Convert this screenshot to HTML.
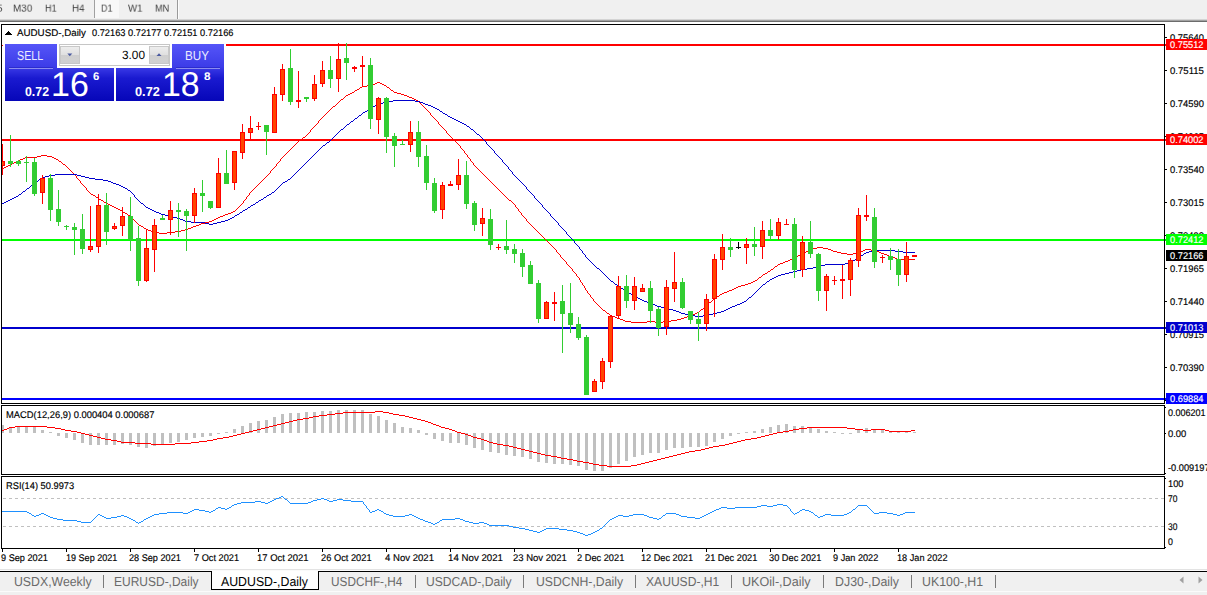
<!DOCTYPE html>
<html><head><meta charset="utf-8"><title>AUDUSD-,Daily</title>
<style>
html,body{margin:0;padding:0}
body{width:1207px;height:595px;position:relative;overflow:hidden;background:#fff;font-family:"Liberation Sans",sans-serif}
.t{position:absolute;white-space:nowrap;line-height:1;transform-origin:0 50%;font-family:"Liberation Sans",sans-serif}
#tb{position:absolute;left:0;top:0;width:1207px;height:19px;background:#f0f0f0}
#tb i{position:absolute;display:block}
svg{position:absolute;left:0;top:0}
.abs{position:absolute}
</style></head><body>
<div id="tb">
<i style="left:94px;top:0;width:1px;height:18px;background:#a0a0a0"></i>
<i style="left:95px;top:0;width:24px;height:18px;background:#f8f8f8"></i>
<i style="left:177px;top:0;width:1px;height:19px;background:#9a9a9a"></i>
<i style="left:178px;top:0;width:1px;height:19px;background:#fdfdfd"></i>
</div>
<div class="abs" style="left:0;top:19px;width:1207px;height:1px;background:#d4d4d4"></div>
<div class="abs" style="left:0;top:20px;width:1207px;height:1px;background:#a2a2a2"></div>
<div class="abs" style="left:0;top:21px;width:1207px;height:1px;background:#6c6c6c"></div>
<svg width="1207" height="595" viewBox="0 0 1207 595" shape-rendering="crispEdges">
<defs>
<clipPath id="cm"><rect x="2" y="25" width="1164" height="378"/></clipPath>
<clipPath id="c2"><rect x="2" y="406" width="1162" height="68"/></clipPath>
<clipPath id="c3"><rect x="2" y="477" width="1162" height="71"/></clipPath>
</defs>
<g clip-path="url(#cm)">
<rect x="226" y="44" width="940" height="2" fill="#ff0000"/>
<rect x="2" y="45" width="1" height="1" fill="#ff0000"/>
<rect x="2" y="139" width="1164" height="2" fill="#ff0000"/>
<rect x="2" y="239" width="1164" height="2" fill="#00ff00"/>
<rect x="2" y="327" width="1164" height="2" fill="#0000cd"/>
<rect x="2" y="398" width="1164" height="2" fill="#0000ff"/>
<path d="M377 82h3v1h-3zM375 83h2v1h-2zM380 83h2v1h-2zM372 84h3v1h-3zM382 84h2v1h-2zM367 85h5v1h-5zM384 85h2v1h-2zM362 86h5v1h-5zM386 86h1v1h-1zM360 87h2v1h-2zM387 87h2v1h-2zM359 88h1v1h-1zM389 88h1v1h-1zM357 89h2v1h-2zM390 89h1v1h-1zM355 90h2v1h-2zM391 90h2v1h-2zM354 91h1v1h-1zM393 91h1v1h-1zM352 92h2v1h-2zM394 92h3v1h-3zM350 93h2v1h-2zM397 93h4v1h-4zM348 94h2v1h-2zM401 94h3v1h-3zM346 95h2v1h-2zM404 95h3v1h-3zM345 96h1v1h-1zM407 96h2v1h-2zM344 97h1v1h-1zM409 97h3v1h-3zM343 98h1v1h-1zM412 98h2v1h-2zM341 99h2v1h-2zM414 99h2v1h-2zM340 100h1v1h-1zM416 100h2v1h-2zM339 101h1v1h-1zM418 101h1v1h-1zM338 102h1v1h-1zM419 102h1v1h-1zM337 103h1v1h-1zM420 103h1v1h-1zM336 104h1v1h-1zM421 104h1v1h-1zM335 105h1v1h-1zM422 105h1v1h-1zM333 106h2v1h-2zM423 106h1v1h-1zM332 107h1v1h-1zM424 107h1v1h-1zM331 108h1v1h-1zM425 108h1v1h-1zM330 109h1v1h-1zM426 109h1v1h-1zM329 110h1v1h-1zM427 110h1v1h-1zM328 111h1v1h-1zM428 111h1v1h-1zM327 112h1v1h-1zM429 112h1v1h-1zM326 113h1v1h-1zM430 113h1v2h-1zM325 114h1v1h-1zM324 115h1v1h-1zM431 115h1v1h-1zM323 116h1v1h-1zM432 116h1v1h-1zM322 117h1v1h-1zM433 117h1v1h-1zM321 118h1v1h-1zM434 118h1v1h-1zM320 119h1v1h-1zM435 119h1v1h-1zM319 120h1v1h-1zM436 120h1v1h-1zM437 121h1v1h-1zM318 121h1v2h-1zM438 122h1v2h-1zM317 123h1v1h-1zM316 124h1v1h-1zM439 124h1v1h-1zM315 125h1v1h-1zM440 125h1v1h-1zM314 126h1v1h-1zM441 126h1v1h-1zM313 127h1v1h-1zM442 127h1v1h-1zM312 128h1v1h-1zM443 128h1v1h-1zM311 129h1v1h-1zM444 129h1v1h-1zM445 130h1v1h-1zM310 130h1v2h-1zM446 131h1v2h-1zM309 132h1v1h-1zM308 133h1v1h-1zM447 133h1v1h-1zM307 134h1v1h-1zM448 134h1v1h-1zM306 135h1v1h-1zM449 135h1v1h-1zM305 136h1v1h-1zM450 136h1v1h-1zM303 137h2v1h-2zM451 137h1v1h-1zM302 138h1v1h-1zM452 138h1v1h-1zM301 139h1v1h-1zM453 139h1v1h-1zM299 140h2v1h-2zM454 140h1v1h-1zM298 141h1v1h-1zM455 141h1v1h-1zM297 142h1v1h-1zM456 142h1v1h-1zM296 143h1v1h-1zM457 143h1v1h-1zM295 144h1v1h-1zM458 144h1v1h-1zM294 145h1v1h-1zM459 145h1v1h-1zM293 146h1v1h-1zM460 146h1v2h-1zM292 147h1v1h-1zM291 148h1v1h-1zM461 148h1v1h-1zM290 149h1v1h-1zM462 149h1v1h-1zM289 150h1v1h-1zM463 150h1v1h-1zM288 151h1v1h-1zM464 151h1v2h-1zM287 152h1v1h-1zM286 153h1v1h-1zM465 153h1v1h-1zM285 154h1v1h-1zM466 154h1v1h-1zM41 155h6v1h-6zM284 155h1v1h-1zM467 155h1v2h-1zM37 156h4v1h-4zM47 156h5v1h-5zM283 156h1v1h-1zM25 157h12v1h-12zM52 157h2v1h-2zM282 157h1v1h-1zM468 157h1v1h-1zM23 158h2v1h-2zM54 158h2v1h-2zM281 158h1v1h-1zM469 158h1v1h-1zM20 159h3v1h-3zM56 159h2v1h-2zM280 159h1v2h-1zM470 159h1v2h-1zM18 160h2v1h-2zM58 160h1v1h-1zM16 161h2v1h-2zM59 161h2v1h-2zM279 161h1v1h-1zM471 161h1v1h-1zM14 162h2v1h-2zM61 162h1v1h-1zM278 162h1v1h-1zM472 162h1v1h-1zM12 163h2v1h-2zM62 163h1v1h-1zM277 163h1v1h-1zM473 163h1v2h-1zM10 164h2v1h-2zM63 164h2v1h-2zM276 164h1v2h-1zM8 165h2v1h-2zM65 165h1v1h-1zM474 165h1v1h-1zM6 166h2v1h-2zM66 166h1v1h-1zM275 166h1v1h-1zM475 166h1v1h-1zM4 167h2v1h-2zM67 167h1v1h-1zM274 167h1v1h-1zM476 167h1v1h-1zM1 168h3v1h-3zM68 168h1v1h-1zM273 168h1v1h-1zM477 168h1v1h-1zM69 169h1v1h-1zM272 169h1v1h-1zM478 169h1v1h-1zM70 170h1v1h-1zM271 170h1v1h-1zM479 170h1v1h-1zM71 171h1v1h-1zM480 171h1v1h-1zM270 171h1v2h-1zM72 172h1v1h-1zM481 172h1v1h-1zM73 173h1v1h-1zM269 173h1v1h-1zM482 173h1v1h-1zM74 174h1v1h-1zM268 174h1v1h-1zM483 174h1v1h-1zM75 175h1v1h-1zM267 175h1v1h-1zM484 175h1v1h-1zM266 176h1v1h-1zM485 176h1v1h-1zM76 176h1v2h-1zM265 177h1v1h-1zM486 177h1v1h-1zM77 178h1v1h-1zM264 178h1v1h-1zM487 178h1v1h-1zM78 179h1v1h-1zM263 179h1v1h-1zM488 179h1v1h-1zM79 180h1v1h-1zM262 180h1v1h-1zM489 180h1v1h-1zM261 181h1v1h-1zM490 181h1v1h-1zM80 181h1v2h-1zM260 182h1v1h-1zM491 182h1v1h-1zM81 183h1v1h-1zM259 183h1v1h-1zM492 183h1v1h-1zM82 184h1v1h-1zM258 184h1v1h-1zM493 184h1v1h-1zM83 185h1v1h-1zM257 185h1v1h-1zM494 185h1v1h-1zM84 186h1v1h-1zM256 186h1v1h-1zM495 186h1v1h-1zM85 187h1v1h-1zM255 187h1v1h-1zM496 187h1v1h-1zM254 188h1v1h-1zM497 188h1v1h-1zM86 188h1v2h-1zM253 189h1v1h-1zM498 189h1v1h-1zM87 190h1v1h-1zM252 190h1v1h-1zM499 190h1v1h-1zM88 191h1v1h-1zM251 191h1v1h-1zM500 191h1v1h-1zM89 192h1v1h-1zM250 192h1v1h-1zM501 192h1v1h-1zM90 193h1v1h-1zM502 193h1v1h-1zM249 193h1v2h-1zM91 194h2v1h-2zM503 194h1v1h-1zM93 195h2v1h-2zM248 195h1v1h-1zM504 195h1v1h-1zM95 196h1v1h-1zM247 196h1v1h-1zM505 196h1v1h-1zM96 197h2v1h-2zM506 197h1v1h-1zM246 197h1v2h-1zM98 198h1v1h-1zM507 198h1v1h-1zM99 199h2v1h-2zM245 199h1v1h-1zM508 199h1v1h-1zM101 200h2v1h-2zM244 200h1v1h-1zM509 200h2v1h-2zM103 201h1v1h-1zM511 201h1v1h-1zM243 201h1v2h-1zM104 202h2v1h-2zM512 202h1v1h-1zM106 203h2v1h-2zM242 203h1v1h-1zM513 203h1v1h-1zM108 204h2v1h-2zM241 204h1v1h-1zM514 204h1v1h-1zM110 205h2v1h-2zM240 205h1v1h-1zM515 205h1v2h-1zM112 206h2v1h-2zM239 206h1v1h-1zM114 207h2v1h-2zM238 207h1v1h-1zM516 207h1v1h-1zM116 208h2v1h-2zM237 208h1v1h-1zM517 208h1v1h-1zM118 209h2v1h-2zM236 209h1v1h-1zM518 209h1v2h-1zM120 210h2v1h-2zM235 210h1v1h-1zM122 211h1v1h-1zM233 211h2v1h-2zM519 211h1v1h-1zM123 212h2v1h-2zM231 212h2v1h-2zM520 212h1v1h-1zM125 213h2v1h-2zM228 213h3v1h-3zM521 213h1v2h-1zM127 214h1v1h-1zM225 214h3v1h-3zM128 215h2v1h-2zM223 215h2v1h-2zM522 215h1v1h-1zM130 216h1v1h-1zM220 216h3v1h-3zM523 216h1v1h-1zM131 217h1v1h-1zM218 217h2v1h-2zM524 217h1v1h-1zM132 218h1v1h-1zM216 218h2v1h-2zM525 218h1v1h-1zM133 219h1v1h-1zM214 219h2v1h-2zM526 219h1v2h-1zM134 220h1v1h-1zM212 220h2v1h-2zM135 221h1v1h-1zM209 221h3v1h-3zM527 221h1v1h-1zM136 222h1v1h-1zM205 222h4v1h-4zM528 222h1v1h-1zM137 223h1v1h-1zM201 223h4v1h-4zM529 223h1v1h-1zM138 224h1v1h-1zM199 224h2v1h-2zM530 224h1v1h-1zM139 225h2v1h-2zM196 225h3v1h-3zM531 225h1v1h-1zM141 226h2v1h-2zM193 226h3v1h-3zM532 226h1v1h-1zM143 227h1v1h-1zM191 227h2v1h-2zM533 227h1v1h-1zM144 228h2v1h-2zM188 228h3v1h-3zM534 228h1v1h-1zM146 229h2v1h-2zM185 229h3v1h-3zM535 229h1v1h-1zM148 230h3v1h-3zM181 230h4v1h-4zM536 230h1v1h-1zM151 231h2v1h-2zM175 231h6v1h-6zM537 231h1v1h-1zM153 232h6v1h-6zM167 232h8v1h-8zM538 232h1v1h-1zM159 233h8v1h-8zM539 233h1v1h-1zM540 234h1v1h-1zM541 235h1v1h-1zM542 236h1v1h-1zM543 237h1v1h-1zM544 238h1v1h-1zM545 239h1v1h-1zM546 240h1v1h-1zM547 241h1v1h-1zM548 242h1v1h-1zM549 243h1v1h-1zM550 244h1v1h-1zM551 245h1v1h-1zM552 246h1v1h-1zM553 247h1v1h-1zM817 247h6v1h-6zM554 248h1v1h-1zM813 248h4v1h-4zM823 248h5v1h-5zM555 249h1v1h-1zM810 249h3v1h-3zM828 249h3v1h-3zM865 249h6v1h-6zM808 250h2v1h-2zM831 250h2v1h-2zM863 250h2v1h-2zM871 250h5v1h-5zM556 250h1v2h-1zM806 251h2v1h-2zM833 251h4v1h-4zM860 251h3v1h-3zM876 251h3v1h-3zM557 252h1v1h-1zM804 252h2v1h-2zM837 252h4v1h-4zM857 252h3v1h-3zM879 252h2v1h-2zM558 253h1v1h-1zM802 253h2v1h-2zM841 253h6v1h-6zM853 253h4v1h-4zM881 253h3v1h-3zM559 254h1v1h-1zM800 254h2v1h-2zM847 254h6v1h-6zM884 254h3v1h-3zM798 255h2v1h-2zM887 255h2v1h-2zM560 255h1v2h-1zM796 256h2v1h-2zM889 256h3v1h-3zM561 257h1v1h-1zM794 257h2v1h-2zM892 257h3v1h-3zM562 258h1v1h-1zM792 258h2v1h-2zM895 258h2v1h-2zM563 259h1v1h-1zM790 259h2v1h-2zM897 259h18v1h-18zM564 260h1v1h-1zM788 260h2v1h-2zM565 261h1v1h-1zM785 261h3v1h-3zM783 262h2v1h-2zM566 262h1v2h-1zM780 263h3v1h-3zM567 264h1v1h-1zM778 264h2v1h-2zM568 265h1v1h-1zM777 265h1v1h-1zM569 266h1v1h-1zM775 266h2v1h-2zM570 267h1v1h-1zM774 267h1v1h-1zM571 268h1v1h-1zM773 268h1v1h-1zM771 269h2v1h-2zM572 269h1v2h-1zM770 270h1v1h-1zM573 271h1v1h-1zM768 271h2v1h-2zM574 272h1v1h-1zM767 272h1v1h-1zM575 273h1v1h-1zM765 273h2v1h-2zM763 274h2v1h-2zM576 274h1v2h-1zM762 275h1v1h-1zM577 276h1v1h-1zM761 276h1v1h-1zM578 277h1v1h-1zM759 277h2v1h-2zM758 278h1v1h-1zM579 278h1v2h-1zM757 279h1v1h-1zM755 280h2v1h-2zM580 280h1v2h-1zM753 281h2v1h-2zM581 282h1v1h-1zM751 282h2v1h-2zM748 283h3v1h-3zM582 283h1v2h-1zM745 284h3v1h-3zM583 285h1v1h-1zM741 285h4v1h-4zM738 286h3v1h-3zM584 286h1v2h-1zM736 287h2v1h-2zM734 288h2v1h-2zM585 288h1v2h-1zM732 289h2v1h-2zM586 290h1v1h-1zM729 290h3v1h-3zM727 291h2v1h-2zM587 291h1v2h-1zM724 292h3v1h-3zM588 293h1v1h-1zM722 293h2v1h-2zM589 294h1v1h-1zM720 294h2v1h-2zM719 295h1v1h-1zM590 295h1v2h-1zM717 296h2v1h-2zM591 297h1v1h-1zM715 297h2v1h-2zM592 298h1v1h-1zM714 298h1v1h-1zM713 299h1v1h-1zM593 299h1v2h-1zM712 300h1v1h-1zM594 301h1v1h-1zM711 301h1v1h-1zM595 302h1v1h-1zM709 302h2v1h-2zM596 303h1v1h-1zM708 303h1v1h-1zM597 304h1v1h-1zM707 304h1v1h-1zM598 305h1v1h-1zM706 305h1v1h-1zM599 306h1v1h-1zM705 306h1v1h-1zM600 307h1v1h-1zM704 307h1v1h-1zM601 308h1v1h-1zM703 308h1v1h-1zM602 309h1v1h-1zM701 309h2v1h-2zM603 310h2v1h-2zM700 310h1v1h-1zM605 311h1v1h-1zM699 311h1v1h-1zM606 312h1v1h-1zM697 312h2v1h-2zM607 313h2v1h-2zM695 313h2v1h-2zM609 314h1v1h-1zM692 314h3v1h-3zM610 315h2v1h-2zM689 315h3v1h-3zM612 316h3v1h-3zM687 316h2v1h-2zM615 317h2v1h-2zM684 317h3v1h-3zM617 318h3v1h-3zM681 318h3v1h-3zM620 319h3v1h-3zM677 319h4v1h-4zM623 320h2v1h-2zM671 320h6v1h-6zM625 321h6v1h-6zM647 321h8v1h-8zM663 321h8v1h-8zM631 322h16v1h-16zM655 322h8v1h-8z" fill="#ff0000"/>
<path d="M393 100h22v1h-22zM389 101h4v1h-4zM415 101h5v1h-5zM383 102h6v1h-6zM420 102h3v1h-3zM378 103h5v1h-5zM423 103h2v1h-2zM376 104h2v1h-2zM425 104h3v1h-3zM375 105h1v1h-1zM428 105h3v1h-3zM373 106h2v1h-2zM431 106h2v1h-2zM371 107h2v1h-2zM433 107h2v1h-2zM370 108h1v1h-1zM435 108h2v1h-2zM368 109h2v1h-2zM437 109h2v1h-2zM367 110h1v1h-1zM439 110h1v1h-1zM365 111h2v1h-2zM440 111h2v1h-2zM363 112h2v1h-2zM442 112h1v1h-1zM362 113h1v1h-1zM443 113h2v1h-2zM361 114h1v1h-1zM445 114h2v1h-2zM359 115h2v1h-2zM447 115h1v1h-1zM358 116h1v1h-1zM448 116h2v1h-2zM357 117h1v1h-1zM450 117h2v1h-2zM355 118h2v1h-2zM452 118h2v1h-2zM354 119h1v1h-1zM454 119h2v1h-2zM353 120h1v1h-1zM456 120h2v1h-2zM351 121h2v1h-2zM458 121h2v1h-2zM350 122h1v1h-1zM460 122h2v1h-2zM349 123h1v1h-1zM462 123h2v1h-2zM347 124h2v1h-2zM464 124h2v1h-2zM346 125h1v1h-1zM466 125h1v1h-1zM345 126h1v1h-1zM467 126h2v1h-2zM344 127h1v1h-1zM469 127h1v1h-1zM343 128h1v1h-1zM470 128h1v1h-1zM341 129h2v1h-2zM471 129h2v1h-2zM340 130h1v1h-1zM473 130h1v1h-1zM339 131h1v1h-1zM474 131h1v1h-1zM338 132h1v1h-1zM475 132h1v1h-1zM337 133h1v1h-1zM476 133h1v1h-1zM336 134h1v1h-1zM477 134h2v1h-2zM335 135h1v1h-1zM479 135h1v1h-1zM334 136h1v1h-1zM480 136h1v1h-1zM333 137h1v1h-1zM481 137h1v1h-1zM332 138h1v1h-1zM482 138h1v1h-1zM331 139h1v1h-1zM483 139h1v1h-1zM330 140h1v1h-1zM484 140h1v1h-1zM329 141h1v1h-1zM485 141h1v1h-1zM327 142h2v1h-2zM486 142h1v2h-1zM326 143h1v1h-1zM325 144h1v1h-1zM487 144h1v1h-1zM323 145h2v1h-2zM488 145h1v1h-1zM322 146h1v1h-1zM489 146h1v1h-1zM321 147h1v1h-1zM490 147h1v1h-1zM320 148h1v1h-1zM491 148h1v1h-1zM319 149h1v1h-1zM492 149h1v1h-1zM318 150h1v1h-1zM493 150h1v1h-1zM317 151h1v1h-1zM494 151h1v2h-1zM316 152h1v1h-1zM315 153h1v1h-1zM495 153h1v1h-1zM314 154h1v1h-1zM496 154h1v1h-1zM313 155h1v1h-1zM497 155h1v1h-1zM312 156h1v1h-1zM498 156h1v1h-1zM311 157h1v1h-1zM499 157h1v1h-1zM310 158h1v1h-1zM500 158h1v1h-1zM309 159h1v1h-1zM501 159h1v1h-1zM308 160h1v1h-1zM502 160h1v2h-1zM307 161h1v1h-1zM306 162h1v1h-1zM503 162h1v1h-1zM305 163h1v1h-1zM504 163h1v1h-1zM304 164h1v1h-1zM505 164h1v1h-1zM303 165h1v1h-1zM506 165h1v1h-1zM302 166h1v1h-1zM507 166h1v1h-1zM301 167h1v1h-1zM508 167h1v2h-1zM300 168h1v1h-1zM299 169h1v1h-1zM509 169h1v1h-1zM298 170h1v1h-1zM510 170h1v1h-1zM297 171h1v1h-1zM511 171h1v1h-1zM296 172h1v1h-1zM512 172h1v2h-1zM295 173h1v1h-1zM55 174h22v1h-22zM294 174h1v1h-1zM513 174h1v1h-1zM49 175h6v1h-6zM77 175h4v1h-4zM293 175h1v1h-1zM514 175h1v1h-1zM45 176h4v1h-4zM81 176h4v1h-4zM292 176h1v1h-1zM515 176h1v1h-1zM42 177h3v1h-3zM85 177h4v1h-4zM291 177h1v1h-1zM516 177h1v1h-1zM41 178h1v1h-1zM89 178h6v1h-6zM290 178h1v1h-1zM517 178h1v1h-1zM39 179h2v1h-2zM95 179h8v1h-8zM288 179h2v1h-2zM518 179h1v1h-1zM38 180h1v1h-1zM103 180h5v1h-5zM287 180h1v1h-1zM519 180h1v1h-1zM37 181h1v1h-1zM108 181h3v1h-3zM285 181h2v1h-2zM520 181h1v1h-1zM35 182h2v1h-2zM111 182h2v1h-2zM283 182h2v1h-2zM521 182h1v1h-1zM34 183h1v1h-1zM113 183h3v1h-3zM282 183h1v1h-1zM522 183h1v1h-1zM33 184h1v1h-1zM116 184h3v1h-3zM281 184h1v1h-1zM523 184h1v1h-1zM31 185h2v1h-2zM119 185h2v1h-2zM280 185h1v1h-1zM524 185h1v1h-1zM30 186h1v1h-1zM121 186h2v1h-2zM279 186h1v1h-1zM525 186h1v1h-1zM29 187h1v1h-1zM123 187h2v1h-2zM278 187h1v1h-1zM526 187h1v2h-1zM27 188h2v1h-2zM125 188h2v1h-2zM277 188h1v1h-1zM26 189h1v1h-1zM127 189h1v1h-1zM276 189h1v1h-1zM527 189h1v1h-1zM25 190h1v1h-1zM128 190h2v1h-2zM275 190h1v1h-1zM528 190h1v1h-1zM23 191h2v1h-2zM130 191h1v1h-1zM274 191h1v1h-1zM529 191h1v1h-1zM22 192h1v1h-1zM131 192h1v1h-1zM272 192h2v1h-2zM530 192h1v1h-1zM21 193h1v1h-1zM132 193h1v1h-1zM271 193h1v1h-1zM531 193h1v1h-1zM19 194h2v1h-2zM133 194h1v1h-1zM269 194h2v1h-2zM532 194h1v1h-1zM18 195h1v1h-1zM267 195h2v1h-2zM533 195h1v1h-1zM134 195h1v2h-1zM16 196h2v1h-2zM266 196h1v1h-1zM534 196h1v2h-1zM14 197h2v1h-2zM135 197h1v1h-1zM264 197h2v1h-2zM12 198h2v1h-2zM136 198h1v1h-1zM263 198h1v1h-1zM535 198h1v1h-1zM10 199h2v1h-2zM137 199h1v1h-1zM261 199h2v1h-2zM536 199h1v1h-1zM8 200h2v1h-2zM138 200h1v1h-1zM259 200h2v1h-2zM537 200h1v1h-1zM6 201h2v1h-2zM139 201h1v1h-1zM258 201h1v1h-1zM538 201h1v1h-1zM4 202h2v1h-2zM140 202h1v1h-1zM256 202h2v1h-2zM539 202h1v1h-1zM1 203h3v1h-3zM141 203h2v1h-2zM255 203h1v1h-1zM540 203h1v1h-1zM143 204h1v1h-1zM253 204h2v1h-2zM541 204h1v1h-1zM144 205h1v1h-1zM251 205h2v1h-2zM542 205h1v2h-1zM145 206h1v1h-1zM250 206h1v1h-1zM146 207h2v1h-2zM248 207h2v1h-2zM543 207h1v1h-1zM148 208h2v1h-2zM247 208h1v1h-1zM544 208h1v1h-1zM150 209h2v1h-2zM245 209h2v1h-2zM545 209h1v1h-1zM152 210h2v1h-2zM243 210h2v1h-2zM546 210h1v1h-1zM154 211h2v1h-2zM242 211h1v1h-1zM547 211h1v1h-1zM156 212h3v1h-3zM240 212h2v1h-2zM548 212h1v1h-1zM159 213h2v1h-2zM239 213h1v1h-1zM549 213h1v1h-1zM161 214h4v1h-4zM237 214h2v1h-2zM550 214h1v2h-1zM165 215h4v1h-4zM235 215h2v1h-2zM169 216h4v1h-4zM234 216h1v1h-1zM551 216h1v1h-1zM173 217h4v1h-4zM232 217h2v1h-2zM552 217h1v1h-1zM177 218h3v1h-3zM230 218h2v1h-2zM553 218h1v1h-1zM180 219h3v1h-3zM228 219h2v1h-2zM554 219h1v1h-1zM183 220h2v1h-2zM225 220h3v1h-3zM555 220h1v1h-1zM185 221h6v1h-6zM221 221h4v1h-4zM556 221h1v1h-1zM191 222h14v1h-14zM217 222h4v1h-4zM557 222h1v1h-1zM205 223h4v1h-4zM213 223h4v1h-4zM558 223h1v2h-1zM209 224h4v1h-4zM559 225h1v1h-1zM560 226h1v1h-1zM561 227h1v1h-1zM562 228h1v1h-1zM563 229h1v1h-1zM564 230h1v1h-1zM565 231h1v1h-1zM566 232h1v2h-1zM567 234h1v1h-1zM568 235h1v1h-1zM569 236h1v1h-1zM570 237h1v1h-1zM571 238h1v1h-1zM572 239h1v1h-1zM573 240h1v1h-1zM574 241h1v2h-1zM575 243h1v1h-1zM576 244h1v1h-1zM577 245h1v1h-1zM578 246h1v1h-1zM579 247h1v2h-1zM580 249h1v1h-1zM581 250h1v1h-1zM873 250h22v1h-22zM869 251h4v1h-4zM895 251h8v1h-8zM582 251h1v2h-1zM866 252h3v1h-3zM903 252h12v1h-12zM583 253h1v1h-1zM864 253h2v1h-2zM584 254h1v1h-1zM863 254h1v1h-1zM861 255h2v1h-2zM585 255h1v2h-1zM859 256h2v1h-2zM586 257h1v1h-1zM858 257h1v1h-1zM587 258h1v1h-1zM856 258h2v1h-2zM588 259h1v1h-1zM855 259h1v1h-1zM589 260h1v1h-1zM853 260h2v1h-2zM590 261h1v1h-1zM851 261h2v1h-2zM591 262h1v1h-1zM849 262h2v1h-2zM592 263h1v1h-1zM845 263h4v1h-4zM593 264h1v1h-1zM825 264h20v1h-20zM594 265h1v1h-1zM821 265h4v1h-4zM595 266h1v1h-1zM817 266h4v1h-4zM596 267h1v1h-1zM813 267h4v1h-4zM597 268h2v1h-2zM807 268h6v1h-6zM599 269h1v1h-1zM801 269h6v1h-6zM600 270h1v1h-1zM797 270h4v1h-4zM601 271h1v1h-1zM793 271h4v1h-4zM602 272h1v1h-1zM789 272h4v1h-4zM603 273h1v1h-1zM785 273h4v1h-4zM604 274h1v1h-1zM781 274h4v1h-4zM605 275h1v1h-1zM778 275h3v1h-3zM606 276h1v1h-1zM776 276h2v1h-2zM607 277h1v1h-1zM774 277h2v1h-2zM608 278h1v1h-1zM772 278h2v1h-2zM609 279h1v1h-1zM770 279h2v1h-2zM610 280h1v1h-1zM769 280h1v1h-1zM611 281h2v1h-2zM767 281h2v1h-2zM613 282h1v1h-1zM766 282h1v1h-1zM614 283h1v1h-1zM765 283h1v1h-1zM615 284h2v1h-2zM763 284h2v1h-2zM617 285h1v1h-1zM762 285h1v1h-1zM618 286h1v1h-1zM761 286h1v1h-1zM619 287h2v1h-2zM760 287h1v1h-1zM621 288h2v1h-2zM759 288h1v1h-1zM623 289h1v1h-1zM758 289h1v1h-1zM624 290h2v1h-2zM757 290h1v1h-1zM626 291h1v1h-1zM756 291h1v1h-1zM627 292h2v1h-2zM755 292h1v1h-1zM629 293h2v1h-2zM754 293h1v1h-1zM631 294h1v1h-1zM753 294h1v1h-1zM632 295h2v1h-2zM752 295h1v1h-1zM634 296h2v1h-2zM751 296h1v1h-1zM636 297h2v1h-2zM749 297h2v1h-2zM638 298h2v1h-2zM748 298h1v1h-1zM640 299h2v1h-2zM747 299h1v1h-1zM642 300h2v1h-2zM746 300h1v1h-1zM644 301h3v1h-3zM744 301h2v1h-2zM647 302h2v1h-2zM742 302h2v1h-2zM649 303h3v1h-3zM740 303h2v1h-2zM652 304h3v1h-3zM737 304h3v1h-3zM655 305h2v1h-2zM735 305h2v1h-2zM657 306h4v1h-4zM732 306h3v1h-3zM661 307h4v1h-4zM730 307h2v1h-2zM665 308h4v1h-4zM728 308h2v1h-2zM669 309h4v1h-4zM726 309h2v1h-2zM673 310h3v1h-3zM724 310h2v1h-2zM676 311h3v1h-3zM721 311h3v1h-3zM679 312h2v1h-2zM717 312h4v1h-4zM681 313h4v1h-4zM713 313h4v1h-4zM685 314h4v1h-4zM709 314h4v1h-4zM689 315h6v1h-6zM703 315h6v1h-6zM695 316h8v1h-8z" fill="#0000cd"/>
<rect x="2" y="144" width="1" height="31" fill="#ff0000"/>
<rect x="0" y="161" width="5" height="5" fill="#ff0000"/>
<rect x="1" y="162" width="3" height="3" fill="#ff4500"/>
<rect x="10" y="135" width="1" height="32" fill="#32cd32"/>
<rect x="8" y="161" width="5" height="3" fill="#32cd32"/>
<rect x="18" y="160" width="1" height="6" fill="#32cd32"/>
<rect x="16" y="161" width="5" height="3" fill="#32cd32"/>
<rect x="26" y="156" width="1" height="26" fill="#32cd32"/>
<rect x="24" y="162" width="5" height="1" fill="#32cd32"/>
<rect x="34" y="158" width="1" height="38" fill="#32cd32"/>
<rect x="32" y="162" width="5" height="32" fill="#32cd32"/>
<rect x="42" y="175" width="1" height="29" fill="#ff0000"/>
<rect x="40" y="178" width="5" height="15" fill="#ff0000"/>
<rect x="41" y="179" width="3" height="13" fill="#ff4500"/>
<rect x="50" y="174" width="1" height="47" fill="#32cd32"/>
<rect x="48" y="178" width="5" height="32" fill="#32cd32"/>
<rect x="58" y="190" width="1" height="36" fill="#32cd32"/>
<rect x="56" y="209" width="5" height="13" fill="#32cd32"/>
<rect x="66" y="225" width="1" height="5" fill="#32cd32"/>
<rect x="64" y="226" width="5" height="1" fill="#32cd32"/>
<rect x="74" y="223" width="1" height="32" fill="#32cd32"/>
<rect x="72" y="227" width="5" height="3" fill="#32cd32"/>
<rect x="82" y="214" width="1" height="40" fill="#32cd32"/>
<rect x="80" y="229" width="5" height="20" fill="#32cd32"/>
<rect x="90" y="206" width="1" height="46" fill="#ff0000"/>
<rect x="88" y="246" width="5" height="4" fill="#ff0000"/>
<rect x="89" y="247" width="3" height="2" fill="#ff4500"/>
<rect x="98" y="194" width="1" height="59" fill="#ff0000"/>
<rect x="96" y="205" width="5" height="42" fill="#ff0000"/>
<rect x="97" y="206" width="3" height="40" fill="#ff4500"/>
<rect x="106" y="193" width="1" height="52" fill="#32cd32"/>
<rect x="104" y="205" width="5" height="27" fill="#32cd32"/>
<rect x="114" y="223" width="1" height="7" fill="#ff0000"/>
<rect x="112" y="226" width="5" height="3" fill="#ff0000"/>
<rect x="113" y="227" width="3" height="1" fill="#ff4500"/>
<rect x="122" y="207" width="1" height="29" fill="#ff0000"/>
<rect x="120" y="216" width="5" height="10" fill="#ff0000"/>
<rect x="121" y="217" width="3" height="8" fill="#ff4500"/>
<rect x="130" y="197" width="1" height="54" fill="#32cd32"/>
<rect x="128" y="216" width="5" height="24" fill="#32cd32"/>
<rect x="138" y="226" width="1" height="60" fill="#32cd32"/>
<rect x="136" y="238" width="5" height="43" fill="#32cd32"/>
<rect x="146" y="230" width="1" height="52" fill="#ff0000"/>
<rect x="144" y="248" width="5" height="33" fill="#ff0000"/>
<rect x="145" y="249" width="3" height="31" fill="#ff4500"/>
<rect x="154" y="219" width="1" height="53" fill="#ff0000"/>
<rect x="152" y="225" width="5" height="25" fill="#ff0000"/>
<rect x="153" y="226" width="3" height="23" fill="#ff4500"/>
<rect x="162" y="215" width="1" height="5" fill="#32cd32"/>
<rect x="160" y="218" width="5" height="2" fill="#32cd32"/>
<rect x="170" y="201" width="1" height="34" fill="#ff0000"/>
<rect x="168" y="210" width="5" height="10" fill="#ff0000"/>
<rect x="169" y="211" width="3" height="8" fill="#ff4500"/>
<rect x="178" y="203" width="1" height="34" fill="#32cd32"/>
<rect x="176" y="210" width="5" height="2" fill="#32cd32"/>
<rect x="186" y="209" width="1" height="42" fill="#32cd32"/>
<rect x="184" y="211" width="5" height="5" fill="#32cd32"/>
<rect x="194" y="188" width="1" height="35" fill="#ff0000"/>
<rect x="192" y="193" width="5" height="23" fill="#ff0000"/>
<rect x="193" y="194" width="3" height="21" fill="#ff4500"/>
<rect x="202" y="180" width="1" height="32" fill="#32cd32"/>
<rect x="200" y="193" width="5" height="3" fill="#32cd32"/>
<rect x="210" y="201" width="1" height="8" fill="#32cd32"/>
<rect x="208" y="201" width="5" height="7" fill="#32cd32"/>
<rect x="218" y="158" width="1" height="50" fill="#ff0000"/>
<rect x="216" y="173" width="5" height="35" fill="#ff0000"/>
<rect x="217" y="174" width="3" height="33" fill="#ff4500"/>
<rect x="226" y="150" width="1" height="34" fill="#32cd32"/>
<rect x="224" y="173" width="5" height="11" fill="#32cd32"/>
<rect x="234" y="151" width="1" height="39" fill="#ff0000"/>
<rect x="232" y="151" width="5" height="32" fill="#ff0000"/>
<rect x="233" y="152" width="3" height="30" fill="#ff4500"/>
<rect x="242" y="124" width="1" height="35" fill="#ff0000"/>
<rect x="240" y="132" width="5" height="21" fill="#ff0000"/>
<rect x="241" y="133" width="3" height="19" fill="#ff4500"/>
<rect x="250" y="116" width="1" height="23" fill="#ff0000"/>
<rect x="248" y="128" width="5" height="5" fill="#ff0000"/>
<rect x="249" y="129" width="3" height="3" fill="#ff4500"/>
<rect x="258" y="122" width="1" height="8" fill="#ff0000"/>
<rect x="256" y="126" width="5" height="1" fill="#ff0000"/>
<rect x="266" y="125" width="1" height="30" fill="#32cd32"/>
<rect x="264" y="125" width="5" height="7" fill="#32cd32"/>
<rect x="274" y="87" width="1" height="46" fill="#ff0000"/>
<rect x="272" y="94" width="5" height="39" fill="#ff0000"/>
<rect x="273" y="95" width="3" height="37" fill="#ff4500"/>
<rect x="282" y="64" width="1" height="37" fill="#ff0000"/>
<rect x="280" y="69" width="5" height="26" fill="#ff0000"/>
<rect x="281" y="70" width="3" height="24" fill="#ff4500"/>
<rect x="290" y="49" width="1" height="56" fill="#32cd32"/>
<rect x="288" y="68" width="5" height="34" fill="#32cd32"/>
<rect x="298" y="71" width="1" height="37" fill="#ff0000"/>
<rect x="296" y="100" width="5" height="2" fill="#ff0000"/>
<rect x="306" y="97" width="1" height="5" fill="#32cd32"/>
<rect x="304" y="97" width="5" height="2" fill="#32cd32"/>
<rect x="314" y="75" width="1" height="26" fill="#ff0000"/>
<rect x="312" y="84" width="5" height="15" fill="#ff0000"/>
<rect x="313" y="85" width="3" height="13" fill="#ff4500"/>
<rect x="322" y="61" width="1" height="26" fill="#ff0000"/>
<rect x="320" y="70" width="5" height="14" fill="#ff0000"/>
<rect x="321" y="71" width="3" height="12" fill="#ff4500"/>
<rect x="330" y="56" width="1" height="32" fill="#32cd32"/>
<rect x="328" y="70" width="5" height="9" fill="#32cd32"/>
<rect x="338" y="43" width="1" height="49" fill="#ff0000"/>
<rect x="336" y="59" width="5" height="20" fill="#ff0000"/>
<rect x="337" y="60" width="3" height="18" fill="#ff4500"/>
<rect x="346" y="43" width="1" height="37" fill="#32cd32"/>
<rect x="344" y="58" width="5" height="5" fill="#32cd32"/>
<rect x="354" y="66" width="1" height="6" fill="#ff0000"/>
<rect x="352" y="67" width="5" height="2" fill="#ff0000"/>
<rect x="362" y="56" width="1" height="31" fill="#ff0000"/>
<rect x="360" y="65" width="5" height="2" fill="#ff0000"/>
<rect x="370" y="58" width="1" height="71" fill="#32cd32"/>
<rect x="368" y="65" width="5" height="54" fill="#32cd32"/>
<rect x="378" y="97" width="1" height="37" fill="#ff0000"/>
<rect x="376" y="98" width="5" height="22" fill="#ff0000"/>
<rect x="377" y="99" width="3" height="20" fill="#ff4500"/>
<rect x="386" y="97" width="1" height="56" fill="#32cd32"/>
<rect x="384" y="98" width="5" height="39" fill="#32cd32"/>
<rect x="394" y="133" width="1" height="34" fill="#32cd32"/>
<rect x="392" y="136" width="5" height="10" fill="#32cd32"/>
<rect x="402" y="140" width="1" height="5" fill="#32cd32"/>
<rect x="400" y="144" width="5" height="1" fill="#32cd32"/>
<rect x="410" y="121" width="1" height="31" fill="#ff0000"/>
<rect x="408" y="132" width="5" height="13" fill="#ff0000"/>
<rect x="409" y="133" width="3" height="11" fill="#ff4500"/>
<rect x="418" y="121" width="1" height="46" fill="#32cd32"/>
<rect x="416" y="132" width="5" height="25" fill="#32cd32"/>
<rect x="426" y="145" width="1" height="45" fill="#32cd32"/>
<rect x="424" y="156" width="5" height="27" fill="#32cd32"/>
<rect x="434" y="178" width="1" height="35" fill="#32cd32"/>
<rect x="432" y="183" width="5" height="28" fill="#32cd32"/>
<rect x="442" y="182" width="1" height="37" fill="#ff0000"/>
<rect x="440" y="185" width="5" height="25" fill="#ff0000"/>
<rect x="441" y="186" width="3" height="23" fill="#ff4500"/>
<rect x="450" y="181" width="1" height="5" fill="#ff0000"/>
<rect x="448" y="184" width="5" height="2" fill="#ff0000"/>
<rect x="458" y="159" width="1" height="31" fill="#ff0000"/>
<rect x="456" y="175" width="5" height="10" fill="#ff0000"/>
<rect x="457" y="176" width="3" height="8" fill="#ff4500"/>
<rect x="466" y="161" width="1" height="48" fill="#32cd32"/>
<rect x="464" y="175" width="5" height="29" fill="#32cd32"/>
<rect x="474" y="201" width="1" height="30" fill="#32cd32"/>
<rect x="472" y="203" width="5" height="22" fill="#32cd32"/>
<rect x="482" y="208" width="1" height="28" fill="#ff0000"/>
<rect x="480" y="218" width="5" height="6" fill="#ff0000"/>
<rect x="481" y="219" width="3" height="4" fill="#ff4500"/>
<rect x="490" y="209" width="1" height="41" fill="#32cd32"/>
<rect x="488" y="219" width="5" height="26" fill="#32cd32"/>
<rect x="498" y="244" width="1" height="6" fill="#ff0000"/>
<rect x="496" y="247" width="5" height="1" fill="#ff0000"/>
<rect x="506" y="220" width="1" height="34" fill="#32cd32"/>
<rect x="504" y="246" width="5" height="4" fill="#32cd32"/>
<rect x="514" y="244" width="1" height="19" fill="#32cd32"/>
<rect x="512" y="249" width="5" height="5" fill="#32cd32"/>
<rect x="522" y="249" width="1" height="28" fill="#32cd32"/>
<rect x="520" y="253" width="5" height="14" fill="#32cd32"/>
<rect x="530" y="261" width="1" height="23" fill="#32cd32"/>
<rect x="528" y="265" width="5" height="19" fill="#32cd32"/>
<rect x="538" y="280" width="1" height="43" fill="#32cd32"/>
<rect x="536" y="283" width="5" height="36" fill="#32cd32"/>
<rect x="546" y="301" width="1" height="18" fill="#ff0000"/>
<rect x="544" y="302" width="5" height="17" fill="#ff0000"/>
<rect x="545" y="303" width="3" height="15" fill="#ff4500"/>
<rect x="554" y="292" width="1" height="29" fill="#ff0000"/>
<rect x="552" y="302" width="5" height="2" fill="#ff0000"/>
<rect x="562" y="285" width="1" height="68" fill="#32cd32"/>
<rect x="560" y="301" width="5" height="13" fill="#32cd32"/>
<rect x="570" y="283" width="1" height="50" fill="#32cd32"/>
<rect x="568" y="313" width="5" height="12" fill="#32cd32"/>
<rect x="578" y="317" width="1" height="23" fill="#32cd32"/>
<rect x="576" y="324" width="5" height="14" fill="#32cd32"/>
<rect x="586" y="335" width="1" height="60" fill="#32cd32"/>
<rect x="584" y="337" width="5" height="58" fill="#32cd32"/>
<rect x="594" y="379" width="1" height="13" fill="#ff0000"/>
<rect x="592" y="381" width="5" height="11" fill="#ff0000"/>
<rect x="593" y="382" width="3" height="9" fill="#ff4500"/>
<rect x="602" y="358" width="1" height="31" fill="#ff0000"/>
<rect x="600" y="361" width="5" height="21" fill="#ff0000"/>
<rect x="601" y="362" width="3" height="19" fill="#ff4500"/>
<rect x="610" y="315" width="1" height="53" fill="#ff0000"/>
<rect x="608" y="316" width="5" height="46" fill="#ff0000"/>
<rect x="609" y="317" width="3" height="44" fill="#ff4500"/>
<rect x="618" y="276" width="1" height="42" fill="#ff0000"/>
<rect x="616" y="286" width="5" height="30" fill="#ff0000"/>
<rect x="617" y="287" width="3" height="28" fill="#ff4500"/>
<rect x="626" y="275" width="1" height="33" fill="#32cd32"/>
<rect x="624" y="286" width="5" height="15" fill="#32cd32"/>
<rect x="634" y="277" width="1" height="33" fill="#ff0000"/>
<rect x="632" y="286" width="5" height="15" fill="#ff0000"/>
<rect x="633" y="287" width="3" height="13" fill="#ff4500"/>
<rect x="642" y="284" width="1" height="8" fill="#ff0000"/>
<rect x="640" y="288" width="5" height="4" fill="#ff0000"/>
<rect x="641" y="289" width="3" height="2" fill="#ff4500"/>
<rect x="650" y="281" width="1" height="42" fill="#32cd32"/>
<rect x="648" y="288" width="5" height="23" fill="#32cd32"/>
<rect x="658" y="307" width="1" height="29" fill="#32cd32"/>
<rect x="656" y="309" width="5" height="19" fill="#32cd32"/>
<rect x="666" y="280" width="1" height="55" fill="#ff0000"/>
<rect x="664" y="287" width="5" height="40" fill="#ff0000"/>
<rect x="665" y="288" width="3" height="38" fill="#ff4500"/>
<rect x="674" y="252" width="1" height="50" fill="#ff0000"/>
<rect x="672" y="282" width="5" height="7" fill="#ff0000"/>
<rect x="673" y="283" width="3" height="5" fill="#ff4500"/>
<rect x="682" y="278" width="1" height="31" fill="#32cd32"/>
<rect x="680" y="282" width="5" height="26" fill="#32cd32"/>
<rect x="690" y="311" width="1" height="13" fill="#32cd32"/>
<rect x="688" y="311" width="5" height="9" fill="#32cd32"/>
<rect x="698" y="312" width="1" height="29" fill="#32cd32"/>
<rect x="696" y="319" width="5" height="5" fill="#32cd32"/>
<rect x="706" y="294" width="1" height="37" fill="#ff0000"/>
<rect x="704" y="299" width="5" height="25" fill="#ff0000"/>
<rect x="705" y="300" width="3" height="23" fill="#ff4500"/>
<rect x="714" y="254" width="1" height="63" fill="#ff0000"/>
<rect x="712" y="259" width="5" height="40" fill="#ff0000"/>
<rect x="713" y="260" width="3" height="38" fill="#ff4500"/>
<rect x="722" y="234" width="1" height="36" fill="#ff0000"/>
<rect x="720" y="247" width="5" height="13" fill="#ff0000"/>
<rect x="721" y="248" width="3" height="11" fill="#ff4500"/>
<rect x="730" y="238" width="1" height="19" fill="#32cd32"/>
<rect x="728" y="247" width="5" height="3" fill="#32cd32"/>
<rect x="738" y="242" width="1" height="7" fill="#000000"/>
<rect x="736" y="247" width="5" height="1" fill="#000000"/>
<rect x="746" y="238" width="1" height="26" fill="#ff0000"/>
<rect x="744" y="244" width="5" height="4" fill="#ff0000"/>
<rect x="745" y="245" width="3" height="2" fill="#ff4500"/>
<rect x="754" y="227" width="1" height="29" fill="#32cd32"/>
<rect x="752" y="244" width="5" height="3" fill="#32cd32"/>
<rect x="762" y="221" width="1" height="38" fill="#ff0000"/>
<rect x="760" y="230" width="5" height="17" fill="#ff0000"/>
<rect x="761" y="231" width="3" height="15" fill="#ff4500"/>
<rect x="770" y="219" width="1" height="21" fill="#32cd32"/>
<rect x="768" y="230" width="5" height="6" fill="#32cd32"/>
<rect x="778" y="218" width="1" height="22" fill="#ff0000"/>
<rect x="776" y="222" width="5" height="14" fill="#ff0000"/>
<rect x="777" y="223" width="3" height="12" fill="#ff4500"/>
<rect x="786" y="219" width="1" height="6" fill="#ff0000"/>
<rect x="784" y="224" width="5" height="1" fill="#ff0000"/>
<rect x="794" y="218" width="1" height="60" fill="#32cd32"/>
<rect x="792" y="224" width="5" height="46" fill="#32cd32"/>
<rect x="802" y="236" width="1" height="41" fill="#ff0000"/>
<rect x="800" y="242" width="5" height="28" fill="#ff0000"/>
<rect x="801" y="243" width="3" height="26" fill="#ff4500"/>
<rect x="810" y="221" width="1" height="37" fill="#32cd32"/>
<rect x="808" y="242" width="5" height="12" fill="#32cd32"/>
<rect x="818" y="253" width="1" height="48" fill="#32cd32"/>
<rect x="816" y="254" width="5" height="37" fill="#32cd32"/>
<rect x="826" y="274" width="1" height="37" fill="#ff0000"/>
<rect x="824" y="276" width="5" height="15" fill="#ff0000"/>
<rect x="825" y="277" width="3" height="13" fill="#ff4500"/>
<rect x="834" y="276" width="1" height="9" fill="#ff0000"/>
<rect x="832" y="280" width="5" height="1" fill="#ff0000"/>
<rect x="842" y="265" width="1" height="34" fill="#ff0000"/>
<rect x="840" y="279" width="5" height="2" fill="#ff0000"/>
<rect x="850" y="258" width="1" height="38" fill="#ff0000"/>
<rect x="848" y="260" width="5" height="20" fill="#ff0000"/>
<rect x="849" y="261" width="3" height="18" fill="#ff4500"/>
<rect x="858" y="208" width="1" height="59" fill="#ff0000"/>
<rect x="856" y="215" width="5" height="46" fill="#ff0000"/>
<rect x="857" y="216" width="3" height="44" fill="#ff4500"/>
<rect x="866" y="195" width="1" height="26" fill="#ff0000"/>
<rect x="864" y="215" width="5" height="2" fill="#ff0000"/>
<rect x="874" y="208" width="1" height="60" fill="#32cd32"/>
<rect x="872" y="217" width="5" height="45" fill="#32cd32"/>
<rect x="882" y="255" width="1" height="8" fill="#ff0000"/>
<rect x="880" y="257" width="5" height="1" fill="#ff0000"/>
<rect x="890" y="248" width="1" height="22" fill="#32cd32"/>
<rect x="888" y="256" width="5" height="4" fill="#32cd32"/>
<rect x="898" y="249" width="1" height="37" fill="#32cd32"/>
<rect x="896" y="259" width="5" height="16" fill="#32cd32"/>
<rect x="906" y="242" width="1" height="40" fill="#ff0000"/>
<rect x="904" y="256" width="5" height="19" fill="#ff0000"/>
<rect x="905" y="257" width="3" height="17" fill="#ff4500"/>
<rect x="914" y="255" width="1" height="2" fill="#ff0000"/>
<rect x="912" y="255" width="5" height="2" fill="#ff0000"/>
</g>
<g clip-path="url(#c2)">
<rect x="1" y="425" width="3" height="8" fill="#c0c0c0"/>
<rect x="9" y="427" width="3" height="6" fill="#c0c0c0"/>
<rect x="17" y="426" width="3" height="7" fill="#c0c0c0"/>
<rect x="25" y="426" width="3" height="7" fill="#c0c0c0"/>
<rect x="33" y="427" width="3" height="6" fill="#c0c0c0"/>
<rect x="41" y="430" width="3" height="3" fill="#c0c0c0"/>
<rect x="49" y="432" width="3" height="1" fill="#c0c0c0"/>
<rect x="57" y="433" width="3" height="3" fill="#c0c0c0"/>
<rect x="65" y="433" width="3" height="5" fill="#c0c0c0"/>
<rect x="73" y="433" width="3" height="7" fill="#c0c0c0"/>
<rect x="81" y="433" width="3" height="10" fill="#c0c0c0"/>
<rect x="89" y="433" width="3" height="12" fill="#c0c0c0"/>
<rect x="97" y="433" width="3" height="12" fill="#c0c0c0"/>
<rect x="105" y="433" width="3" height="12" fill="#c0c0c0"/>
<rect x="113" y="433" width="3" height="12" fill="#c0c0c0"/>
<rect x="121" y="433" width="3" height="11" fill="#c0c0c0"/>
<rect x="129" y="433" width="3" height="12" fill="#c0c0c0"/>
<rect x="137" y="433" width="3" height="14" fill="#c0c0c0"/>
<rect x="145" y="433" width="3" height="15" fill="#c0c0c0"/>
<rect x="153" y="433" width="3" height="13" fill="#c0c0c0"/>
<rect x="161" y="433" width="3" height="12" fill="#c0c0c0"/>
<rect x="169" y="433" width="3" height="10" fill="#c0c0c0"/>
<rect x="177" y="433" width="3" height="9" fill="#c0c0c0"/>
<rect x="185" y="433" width="3" height="7" fill="#c0c0c0"/>
<rect x="193" y="433" width="3" height="5" fill="#c0c0c0"/>
<rect x="201" y="433" width="3" height="4" fill="#c0c0c0"/>
<rect x="209" y="433" width="3" height="3" fill="#c0c0c0"/>
<rect x="217" y="433" width="3" height="1" fill="#c0c0c0"/>
<rect x="225" y="432" width="3" height="1" fill="#c0c0c0"/>
<rect x="233" y="429" width="3" height="4" fill="#c0c0c0"/>
<rect x="241" y="426" width="3" height="7" fill="#c0c0c0"/>
<rect x="249" y="423" width="3" height="10" fill="#c0c0c0"/>
<rect x="257" y="421" width="3" height="12" fill="#c0c0c0"/>
<rect x="265" y="420" width="3" height="13" fill="#c0c0c0"/>
<rect x="273" y="417" width="3" height="16" fill="#c0c0c0"/>
<rect x="281" y="414" width="3" height="19" fill="#c0c0c0"/>
<rect x="289" y="413" width="3" height="20" fill="#c0c0c0"/>
<rect x="297" y="413" width="3" height="20" fill="#c0c0c0"/>
<rect x="305" y="412" width="3" height="21" fill="#c0c0c0"/>
<rect x="313" y="412" width="3" height="21" fill="#c0c0c0"/>
<rect x="321" y="411" width="3" height="22" fill="#c0c0c0"/>
<rect x="329" y="411" width="3" height="22" fill="#c0c0c0"/>
<rect x="337" y="410" width="3" height="23" fill="#c0c0c0"/>
<rect x="345" y="410" width="3" height="23" fill="#c0c0c0"/>
<rect x="353" y="410" width="3" height="23" fill="#c0c0c0"/>
<rect x="361" y="410" width="3" height="23" fill="#c0c0c0"/>
<rect x="369" y="414" width="3" height="19" fill="#c0c0c0"/>
<rect x="377" y="416" width="3" height="17" fill="#c0c0c0"/>
<rect x="385" y="420" width="3" height="13" fill="#c0c0c0"/>
<rect x="393" y="423" width="3" height="10" fill="#c0c0c0"/>
<rect x="401" y="427" width="3" height="6" fill="#c0c0c0"/>
<rect x="409" y="428" width="3" height="5" fill="#c0c0c0"/>
<rect x="417" y="430" width="3" height="3" fill="#c0c0c0"/>
<rect x="425" y="433" width="3" height="2" fill="#c0c0c0"/>
<rect x="433" y="433" width="3" height="6" fill="#c0c0c0"/>
<rect x="441" y="433" width="3" height="8" fill="#c0c0c0"/>
<rect x="449" y="433" width="3" height="10" fill="#c0c0c0"/>
<rect x="457" y="433" width="3" height="10" fill="#c0c0c0"/>
<rect x="465" y="433" width="3" height="12" fill="#c0c0c0"/>
<rect x="473" y="433" width="3" height="15" fill="#c0c0c0"/>
<rect x="481" y="433" width="3" height="17" fill="#c0c0c0"/>
<rect x="489" y="433" width="3" height="19" fill="#c0c0c0"/>
<rect x="497" y="433" width="3" height="20" fill="#c0c0c0"/>
<rect x="505" y="433" width="3" height="22" fill="#c0c0c0"/>
<rect x="513" y="433" width="3" height="23" fill="#c0c0c0"/>
<rect x="521" y="433" width="3" height="24" fill="#c0c0c0"/>
<rect x="529" y="433" width="3" height="26" fill="#c0c0c0"/>
<rect x="537" y="433" width="3" height="29" fill="#c0c0c0"/>
<rect x="545" y="433" width="3" height="30" fill="#c0c0c0"/>
<rect x="553" y="433" width="3" height="31" fill="#c0c0c0"/>
<rect x="561" y="433" width="3" height="31" fill="#c0c0c0"/>
<rect x="569" y="433" width="3" height="32" fill="#c0c0c0"/>
<rect x="577" y="433" width="3" height="33" fill="#c0c0c0"/>
<rect x="585" y="433" width="3" height="37" fill="#c0c0c0"/>
<rect x="593" y="433" width="3" height="38" fill="#c0c0c0"/>
<rect x="601" y="433" width="3" height="38" fill="#c0c0c0"/>
<rect x="609" y="433" width="3" height="35" fill="#c0c0c0"/>
<rect x="617" y="433" width="3" height="31" fill="#c0c0c0"/>
<rect x="625" y="433" width="3" height="28" fill="#c0c0c0"/>
<rect x="633" y="433" width="3" height="24" fill="#c0c0c0"/>
<rect x="641" y="433" width="3" height="22" fill="#c0c0c0"/>
<rect x="649" y="433" width="3" height="20" fill="#c0c0c0"/>
<rect x="657" y="433" width="3" height="20" fill="#c0c0c0"/>
<rect x="665" y="433" width="3" height="17" fill="#c0c0c0"/>
<rect x="673" y="433" width="3" height="15" fill="#c0c0c0"/>
<rect x="681" y="433" width="3" height="15" fill="#c0c0c0"/>
<rect x="689" y="433" width="3" height="14" fill="#c0c0c0"/>
<rect x="697" y="433" width="3" height="14" fill="#c0c0c0"/>
<rect x="705" y="433" width="3" height="13" fill="#c0c0c0"/>
<rect x="713" y="433" width="3" height="9" fill="#c0c0c0"/>
<rect x="721" y="433" width="3" height="6" fill="#c0c0c0"/>
<rect x="729" y="433" width="3" height="3" fill="#c0c0c0"/>
<rect x="737" y="433" width="3" height="1" fill="#c0c0c0"/>
<rect x="745" y="432" width="3" height="1" fill="#c0c0c0"/>
<rect x="753" y="431" width="3" height="2" fill="#c0c0c0"/>
<rect x="761" y="429" width="3" height="4" fill="#c0c0c0"/>
<rect x="769" y="427" width="3" height="6" fill="#c0c0c0"/>
<rect x="777" y="425" width="3" height="8" fill="#c0c0c0"/>
<rect x="785" y="424" width="3" height="9" fill="#c0c0c0"/>
<rect x="793" y="426" width="3" height="7" fill="#c0c0c0"/>
<rect x="801" y="426" width="3" height="7" fill="#c0c0c0"/>
<rect x="809" y="427" width="3" height="6" fill="#c0c0c0"/>
<rect x="817" y="429" width="3" height="4" fill="#c0c0c0"/>
<rect x="825" y="431" width="3" height="2" fill="#c0c0c0"/>
<rect x="833" y="432" width="3" height="1" fill="#c0c0c0"/>
<rect x="841" y="433" width="3" height="1" fill="#c0c0c0"/>
<rect x="849" y="433" width="3" height="1" fill="#c0c0c0"/>
<rect x="857" y="430" width="3" height="3" fill="#c0c0c0"/>
<rect x="865" y="428" width="3" height="5" fill="#c0c0c0"/>
<rect x="873" y="429" width="3" height="4" fill="#c0c0c0"/>
<rect x="881" y="430" width="3" height="3" fill="#c0c0c0"/>
<rect x="889" y="431" width="3" height="2" fill="#c0c0c0"/>
<rect x="897" y="432" width="3" height="1" fill="#c0c0c0"/>
<rect x="905" y="432" width="3" height="1" fill="#c0c0c0"/>
<rect x="913" y="432" width="3" height="1" fill="#c0c0c0"/>
<path d="M375 411h8v1h-8zM343 412h32v1h-32zM383 412h6v1h-6zM335 413h8v1h-8zM389 413h4v1h-4zM327 414h8v1h-8zM393 414h6v1h-6zM319 415h8v1h-8zM399 415h6v1h-6zM313 416h6v1h-6zM405 416h4v1h-4zM309 417h4v1h-4zM409 417h4v1h-4zM303 418h6v1h-6zM413 418h4v1h-4zM297 419h6v1h-6zM417 419h4v1h-4zM293 420h4v1h-4zM421 420h4v1h-4zM289 421h4v1h-4zM425 421h3v1h-3zM285 422h4v1h-4zM428 422h3v1h-3zM281 423h4v1h-4zM431 423h2v1h-2zM277 424h4v1h-4zM433 424h3v1h-3zM273 425h4v1h-4zM436 425h3v1h-3zM15 426h32v1h-32zM269 426h4v1h-4zM439 426h2v1h-2zM9 427h6v1h-6zM47 427h8v1h-8zM265 427h4v1h-4zM441 427h4v1h-4zM807 427h40v1h-40zM7 428h2v1h-2zM55 428h6v1h-6zM261 428h4v1h-4zM445 428h4v1h-4zM799 428h8v1h-8zM847 428h8v1h-8zM4 429h3v1h-3zM61 429h4v1h-4zM257 429h4v1h-4zM449 429h3v1h-3zM793 429h6v1h-6zM855 429h8v1h-8zM871 429h14v1h-14zM1 430h3v1h-3zM65 430h6v1h-6zM253 430h4v1h-4zM452 430h3v1h-3zM789 430h4v1h-4zM863 430h8v1h-8zM885 430h4v1h-4zM911 430h4v1h-4zM71 431h6v1h-6zM249 431h4v1h-4zM455 431h2v1h-2zM783 431h6v1h-6zM889 431h22v1h-22zM77 432h4v1h-4zM245 432h4v1h-4zM457 432h4v1h-4zM777 432h6v1h-6zM81 433h4v1h-4zM241 433h4v1h-4zM461 433h4v1h-4zM773 433h4v1h-4zM85 434h4v1h-4zM237 434h4v1h-4zM465 434h3v1h-3zM769 434h4v1h-4zM89 435h4v1h-4zM233 435h4v1h-4zM468 435h3v1h-3zM765 435h4v1h-4zM93 436h4v1h-4zM229 436h4v1h-4zM471 436h2v1h-2zM761 436h4v1h-4zM97 437h4v1h-4zM223 437h6v1h-6zM473 437h4v1h-4zM757 437h4v1h-4zM101 438h4v1h-4zM217 438h6v1h-6zM477 438h4v1h-4zM751 438h6v1h-6zM105 439h6v1h-6zM213 439h4v1h-4zM481 439h3v1h-3zM745 439h6v1h-6zM111 440h6v1h-6zM207 440h6v1h-6zM484 440h3v1h-3zM741 440h4v1h-4zM117 441h4v1h-4zM199 441h8v1h-8zM487 441h2v1h-2zM737 441h4v1h-4zM121 442h14v1h-14zM191 442h8v1h-8zM489 442h4v1h-4zM733 442h4v1h-4zM135 443h16v1h-16zM175 443h16v1h-16zM493 443h4v1h-4zM729 443h4v1h-4zM151 444h24v1h-24zM497 444h6v1h-6zM725 444h4v1h-4zM503 445h6v1h-6zM719 445h6v1h-6zM509 446h4v1h-4zM713 446h6v1h-6zM513 447h4v1h-4zM709 447h4v1h-4zM517 448h4v1h-4zM705 448h4v1h-4zM521 449h4v1h-4zM701 449h4v1h-4zM525 450h4v1h-4zM695 450h6v1h-6zM529 451h4v1h-4zM689 451h6v1h-6zM533 452h4v1h-4zM685 452h4v1h-4zM537 453h4v1h-4zM681 453h4v1h-4zM541 454h4v1h-4zM677 454h4v1h-4zM545 455h6v1h-6zM673 455h4v1h-4zM551 456h6v1h-6zM669 456h4v1h-4zM557 457h4v1h-4zM665 457h4v1h-4zM561 458h6v1h-6zM661 458h4v1h-4zM567 459h6v1h-6zM657 459h4v1h-4zM573 460h4v1h-4zM653 460h4v1h-4zM577 461h6v1h-6zM649 461h4v1h-4zM583 462h6v1h-6zM645 462h4v1h-4zM589 463h4v1h-4zM641 463h4v1h-4zM593 464h6v1h-6zM637 464h4v1h-4zM599 465h8v1h-8zM631 465h6v1h-6zM607 466h24v1h-24z" fill="#ff0000"/>
</g>
<g clip-path="url(#c3)">
<line x1="3" y1="498.5" x2="1164" y2="498.5" stroke="#c0c0c0" stroke-width="1" stroke-dasharray="3 3"/>
<line x1="3" y1="526.5" x2="1164" y2="526.5" stroke="#c0c0c0" stroke-width="1" stroke-dasharray="3 3"/>
<path d="M281 496h2v1h-2zM279 497h2v1h-2zM283 497h1v1h-1zM276 498h3v1h-3zM284 498h1v1h-1zM321 498h3v1h-3zM274 499h2v1h-2zM285 499h2v1h-2zM317 499h4v1h-4zM324 499h3v1h-3zM337 499h6v1h-6zM272 500h2v1h-2zM287 500h1v1h-1zM313 500h4v1h-4zM327 500h2v1h-2zM333 500h4v1h-4zM343 500h8v1h-8zM255 501h6v1h-6zM270 501h2v1h-2zM288 501h1v1h-1zM311 501h2v1h-2zM329 501h4v1h-4zM351 501h12v1h-12zM241 502h14v1h-14zM261 502h4v1h-4zM268 502h2v1h-2zM289 502h1v1h-1zM308 502h3v1h-3zM363 502h1v2h-1zM237 503h4v1h-4zM265 503h3v1h-3zM290 503h18v1h-18zM234 504h3v1h-3zM364 504h1v1h-1zM777 504h6v1h-6zM232 505h2v1h-2zM365 505h1v1h-1zM761 505h6v1h-6zM773 505h4v1h-4zM783 505h4v1h-4zM858 505h9v1h-9zM231 506h1v1h-1zM757 506h4v1h-4zM767 506h6v1h-6zM787 506h1v1h-1zM857 506h1v1h-1zM867 506h1v1h-1zM366 506h1v2h-1zM218 507h3v1h-3zM229 507h2v1h-2zM721 507h6v1h-6zM735 507h22v1h-22zM788 507h1v1h-1zM856 507h1v1h-1zM868 507h1v1h-1zM216 508h2v1h-2zM221 508h4v1h-4zM227 508h2v1h-2zM367 508h1v1h-1zM719 508h2v1h-2zM727 508h8v1h-8zM789 508h1v1h-1zM855 508h1v1h-1zM869 508h1v1h-1zM194 509h5v1h-5zM215 509h1v1h-1zM225 509h2v1h-2zM368 509h1v1h-1zM377 509h2v1h-2zM716 509h3v1h-3zM802 509h3v1h-3zM853 509h2v1h-2zM870 509h1v1h-1zM790 509h1v2h-1zM192 510h2v1h-2zM199 510h6v1h-6zM213 510h2v1h-2zM375 510h2v1h-2zM379 510h2v1h-2zM714 510h2v1h-2zM800 510h2v1h-2zM805 510h4v1h-4zM852 510h1v1h-1zM871 510h1v1h-1zM369 510h1v2h-1zM1 511h26v1h-26zM190 511h2v1h-2zM205 511h4v1h-4zM211 511h2v1h-2zM372 511h3v1h-3zM381 511h2v1h-2zM712 511h2v1h-2zM791 511h1v1h-1zM799 511h1v1h-1zM809 511h2v1h-2zM851 511h1v1h-1zM872 511h1v1h-1zM27 512h2v1h-2zM167 512h16v1h-16zM188 512h2v1h-2zM209 512h2v1h-2zM370 512h2v1h-2zM383 512h1v1h-1zM710 512h2v1h-2zM792 512h1v1h-1zM797 512h2v1h-2zM811 512h2v1h-2zM849 512h2v1h-2zM873 512h1v1h-1zM879 512h8v1h-8zM905 512h10v1h-10zM29 513h2v1h-2zM41 513h3v1h-3zM159 513h8v1h-8zM183 513h5v1h-5zM384 513h2v1h-2zM666 513h10v1h-10zM708 513h2v1h-2zM793 513h1v1h-1zM795 513h2v1h-2zM813 513h1v1h-1zM847 513h2v1h-2zM874 513h5v1h-5zM887 513h6v1h-6zM903 513h2v1h-2zM31 514h1v1h-1zM39 514h2v1h-2zM44 514h2v1h-2zM98 514h2v1h-2zM154 514h5v1h-5zM386 514h3v1h-3zM409 514h3v1h-3zM633 514h11v1h-11zM665 514h1v1h-1zM676 514h3v1h-3zM706 514h2v1h-2zM794 514h1v1h-1zM814 514h1v1h-1zM825 514h6v1h-6zM844 514h3v1h-3zM893 514h4v1h-4zM900 514h3v1h-3zM32 515h2v1h-2zM36 515h3v1h-3zM46 515h2v1h-2zM97 515h1v1h-1zM100 515h2v1h-2zM121 515h3v1h-3zM152 515h2v1h-2zM389 515h4v1h-4zM405 515h4v1h-4zM412 515h2v1h-2zM618 515h5v1h-5zM629 515h4v1h-4zM644 515h3v1h-3zM663 515h2v1h-2zM679 515h2v1h-2zM704 515h2v1h-2zM815 515h2v1h-2zM823 515h2v1h-2zM831 515h13v1h-13zM897 515h3v1h-3zM34 516h2v1h-2zM48 516h2v1h-2zM96 516h1v1h-1zM102 516h2v1h-2zM117 516h4v1h-4zM124 516h3v1h-3zM150 516h2v1h-2zM393 516h12v1h-12zM414 516h2v1h-2zM616 516h2v1h-2zM623 516h6v1h-6zM647 516h2v1h-2zM662 516h1v1h-1zM681 516h6v1h-6zM702 516h2v1h-2zM817 516h1v1h-1zM820 516h3v1h-3zM50 517h3v1h-3zM95 517h1v1h-1zM104 517h2v1h-2zM111 517h6v1h-6zM127 517h2v1h-2zM148 517h2v1h-2zM416 517h2v1h-2zM614 517h2v1h-2zM649 517h4v1h-4zM661 517h1v1h-1zM687 517h8v1h-8zM700 517h2v1h-2zM818 517h2v1h-2zM53 518h4v1h-4zM94 518h1v1h-1zM106 518h5v1h-5zM129 518h2v1h-2zM146 518h2v1h-2zM418 518h2v1h-2zM455 518h5v1h-5zM612 518h2v1h-2zM653 518h4v1h-4zM659 518h2v1h-2zM695 518h5v1h-5zM57 519h6v1h-6zM93 519h1v1h-1zM131 519h2v1h-2zM144 519h2v1h-2zM420 519h3v1h-3zM442 519h13v1h-13zM460 519h3v1h-3zM610 519h2v1h-2zM657 519h2v1h-2zM63 520h14v1h-14zM92 520h1v1h-1zM133 520h2v1h-2zM143 520h1v1h-1zM423 520h2v1h-2zM440 520h2v1h-2zM463 520h2v1h-2zM609 520h1v1h-1zM77 521h4v1h-4zM91 521h1v1h-1zM135 521h1v1h-1zM141 521h2v1h-2zM425 521h3v1h-3zM439 521h1v1h-1zM465 521h4v1h-4zM608 521h1v1h-1zM81 522h10v1h-10zM136 522h2v1h-2zM139 522h2v1h-2zM428 522h3v1h-3zM437 522h2v1h-2zM469 522h4v1h-4zM479 522h5v1h-5zM607 522h1v1h-1zM138 523h1v1h-1zM431 523h2v1h-2zM435 523h2v1h-2zM473 523h6v1h-6zM484 523h3v1h-3zM606 523h1v1h-1zM433 524h2v1h-2zM487 524h2v1h-2zM605 524h1v1h-1zM489 525h20v1h-20zM604 525h1v1h-1zM509 526h4v1h-4zM603 526h1v1h-1zM513 527h6v1h-6zM602 527h1v1h-1zM519 528h6v1h-6zM546 528h13v1h-13zM600 528h2v1h-2zM525 529h4v1h-4zM544 529h2v1h-2zM559 529h8v1h-8zM599 529h1v1h-1zM529 530h4v1h-4zM542 530h2v1h-2zM567 530h6v1h-6zM597 530h2v1h-2zM533 531h4v1h-4zM540 531h2v1h-2zM573 531h4v1h-4zM595 531h2v1h-2zM537 532h3v1h-3zM577 532h3v1h-3zM593 532h2v1h-2zM580 533h3v1h-3zM591 533h2v1h-2zM583 534h2v1h-2zM588 534h3v1h-3zM585 535h3v1h-3z" fill="#1e90ff"/>
</g>
<rect x="1" y="24" width="1164" height="1" fill="#000"/>
<rect x="1" y="24" width="1" height="380" fill="#000"/>
<rect x="1" y="403" width="1164" height="1" fill="#000"/>
<rect x="1164" y="24" width="1" height="380" fill="#000"/>
<rect x="1" y="405" width="1164" height="1" fill="#000"/>
<rect x="1" y="405" width="1" height="70" fill="#000"/>
<rect x="1" y="474" width="1164" height="1" fill="#000"/>
<rect x="1164" y="405" width="1" height="70" fill="#000"/>
<rect x="1" y="476" width="1164" height="1" fill="#000"/>
<rect x="1" y="476" width="1" height="73" fill="#000"/>
<rect x="1" y="548" width="1164" height="1" fill="#000"/>
<rect x="1164" y="476" width="1" height="73" fill="#000"/>
<rect x="1165" y="37" width="2" height="1" fill="#000"/>
<rect x="1165" y="70" width="2" height="1" fill="#000"/>
<rect x="1165" y="103" width="2" height="1" fill="#000"/>
<rect x="1165" y="136" width="2" height="1" fill="#000"/>
<rect x="1165" y="169" width="2" height="1" fill="#000"/>
<rect x="1165" y="202" width="2" height="1" fill="#000"/>
<rect x="1165" y="235" width="2" height="1" fill="#000"/>
<rect x="1165" y="268" width="2" height="1" fill="#000"/>
<rect x="1165" y="301" width="2" height="1" fill="#000"/>
<rect x="1165" y="334" width="2" height="1" fill="#000"/>
<rect x="1165" y="367" width="2" height="1" fill="#000"/>
<rect x="1165" y="400" width="2" height="1" fill="#000"/>
<rect x="1165" y="407" width="1" height="1" fill="#000"/>
<rect x="1165" y="433" width="1" height="1" fill="#000"/>
<rect x="1165" y="473" width="1" height="1" fill="#000"/>
<rect x="1165" y="478" width="1" height="1" fill="#000"/>
<rect x="1165" y="547" width="1" height="1" fill="#000"/>
<rect x="2" y="548" width="1" height="4" fill="#000"/>
<rect x="66" y="548" width="1" height="4" fill="#000"/>
<rect x="130" y="548" width="1" height="4" fill="#000"/>
<rect x="194" y="548" width="1" height="4" fill="#000"/>
<rect x="258" y="548" width="1" height="4" fill="#000"/>
<rect x="322" y="548" width="1" height="4" fill="#000"/>
<rect x="386" y="548" width="1" height="4" fill="#000"/>
<rect x="450" y="548" width="1" height="4" fill="#000"/>
<rect x="514" y="548" width="1" height="4" fill="#000"/>
<rect x="578" y="548" width="1" height="4" fill="#000"/>
<rect x="642" y="548" width="1" height="4" fill="#000"/>
<rect x="706" y="548" width="1" height="4" fill="#000"/>
<rect x="770" y="548" width="1" height="4" fill="#000"/>
<rect x="834" y="548" width="1" height="4" fill="#000"/>
<rect x="898" y="548" width="1" height="4" fill="#000"/>
<path d="M8 31h1v1h1v1h1v1h1v1h-7v-1h1v-1h1v-1h1z" fill="#000"/>
</svg>
<div style="position:absolute;left:1166px;top:39px;width:41px;height:11px;background:#ff0000;z-index:2"></div>
<div style="position:absolute;left:1166px;top:134px;width:41px;height:11px;background:#ff0000;z-index:2"></div>
<div style="position:absolute;left:1166px;top:234px;width:41px;height:11px;background:#00ff00;z-index:2"></div>
<div style="position:absolute;left:1166px;top:250px;width:41px;height:11px;background:#000000;z-index:2"></div>
<div style="position:absolute;left:1166px;top:322px;width:41px;height:11px;background:#0000cd;z-index:2"></div>
<div style="position:absolute;left:1166px;top:393px;width:41px;height:11px;background:#0000ff;z-index:2"></div>
<!-- one click trading panel -->
<div class="abs" style="left:5px;top:44px;width:219px;height:57px;z-index:2">
 <div class="abs" style="left:0;top:0;width:219px;height:57px;background:linear-gradient(#5555f8 0%,#3c3ce8 40%,#1a1ad0 60%,#0606b8 100%)"></div>
 <div class="abs" style="left:52px;top:0;width:115px;height:24px;background:#fff"></div>
 <div class="abs" style="left:109px;top:24px;width:2px;height:33px;background:#fff"></div>
 <div class="abs" style="left:4px;top:23px;width:44px;height:1px;background:#2c2ccc"></div>
 <div class="abs" style="left:171px;top:23px;width:44px;height:1px;background:#2c2ccc"></div>
 <div class="abs" style="left:4px;top:24px;width:44px;height:1px;background:#8c8cf0"></div>
 <div class="abs" style="left:171px;top:24px;width:44px;height:1px;background:#8c8cf0"></div>
 <div class="abs" style="left:54px;top:0px;width:111px;height:22px;border:1px solid #c6c6c6;box-sizing:border-box;background:#fff"></div>
 <div class="abs" style="left:55px;top:2px;width:20px;height:18px;background:linear-gradient(#ededed,#e0e0e0 48%,#cfcfcf 52%,#d2d2d2);border:1px solid #c8c8c8;box-sizing:border-box"></div>
 <div class="abs" style="left:144px;top:2px;width:20px;height:18px;background:linear-gradient(#ededed,#e0e0e0 48%,#cfcfcf 52%,#d2d2d2);border:1px solid #c8c8c8;box-sizing:border-box"></div>
 <svg class="abs" style="left:0;top:0" width="219" height="57"><path d="M62.3 9.5 L67.3 9.5 L64.8 12.3 Z" fill="#4a5aa0"/><path d="M151.5 12 L156.5 12 L154 9.2 Z" fill="#4a5aa0"/></svg>
</div>
<!-- tab bar -->
<div class="abs" style="left:0;top:569px;width:1207px;height:1px;background:#e3e3e3"></div>
<div class="abs" style="left:0;top:570px;width:1207px;height:1px;background:#fafafa"></div>
<div class="abs" style="left:0;top:571px;width:1207px;height:24px;background:#f0f0f0"></div>
<div class="abs" style="left:0;top:571px;width:1207px;height:1px;background:#000"></div>
<div class="abs" style="left:211px;top:571px;width:108px;height:19px;background:#fff;border:1px solid #000;border-top:none;box-sizing:border-box"></div>
<div class="abs" style="left:0;top:591px;width:1207px;height:1px;background:#fbfbfb"></div>
<div class="abs" style="left:103px;top:575px;width:1px;height:13px;background:#7a7a7a"></div><div class="abs" style="left:415px;top:575px;width:1px;height:13px;background:#7a7a7a"></div><div class="abs" style="left:523px;top:575px;width:1px;height:13px;background:#7a7a7a"></div><div class="abs" style="left:635px;top:575px;width:1px;height:13px;background:#7a7a7a"></div><div class="abs" style="left:731px;top:575px;width:1px;height:13px;background:#7a7a7a"></div><div class="abs" style="left:823px;top:575px;width:1px;height:13px;background:#7a7a7a"></div><div class="abs" style="left:911px;top:575px;width:1px;height:13px;background:#7a7a7a"></div><div class="abs" style="left:995px;top:575px;width:1px;height:13px;background:#7a7a7a"></div>
<svg class="abs" style="left:0;top:0;z-index:4" width="1207" height="595"><path d="M1183.5 576.5 L1183.5 583.5 L1179.5 580 Z" fill="#a0a0a0"/><path d="M1198.5 576.5 L1198.5 583.5 L1202.5 580 Z" fill="#a0a0a0"/></svg>
<span class="t" style="left:-2.6px;top:3.78px;font-size:10px;color:#404040;transform:scale(1.0067,0.875) skewX(0.05deg);will-change:transform;">5</span>
<span class="t" style="left:12.9px;top:3.78px;font-size:10px;color:#404040;transform:scale(0.9870,0.875) skewX(0.05deg);will-change:transform;">M30</span>
<span class="t" style="left:44.7px;top:3.78px;font-size:10px;color:#404040;transform:scale(0.9143,0.875) skewX(0.05deg);will-change:transform;">H1</span>
<span class="t" style="left:71.6px;top:3.78px;font-size:10px;color:#404040;transform:scale(0.9690,0.875) skewX(0.05deg);will-change:transform;">H4</span>
<span class="t" style="left:100.8px;top:3.78px;font-size:10px;color:#404040;transform:scale(0.8987,0.875) skewX(0.05deg);will-change:transform;">D1</span>
<span class="t" style="left:128.0px;top:3.78px;font-size:10px;color:#404040;transform:scale(0.9600,0.875) skewX(0.05deg);will-change:transform;">W1</span>
<span class="t" style="left:154.8px;top:3.78px;font-size:10px;color:#404040;transform:scale(0.9189,0.875) skewX(0.05deg);will-change:transform;">MN</span>
<span class="t" style="left:17.3px;top:27.98px;font-size:10px;color:#000;-webkit-text-stroke:0.16px #000;transform:scale(0.9764,0.97) skewX(0.05deg);">AUDUSD-,Daily</span>
<span class="t" style="left:91.6px;top:27.98px;font-size:10px;color:#000;-webkit-text-stroke:0.16px #000;transform:scale(0.9252,0.97) skewX(0.05deg);">0.72163 0.72177 0.72151 0.72166</span>
<span class="t" style="left:1169.6px;top:32.68px;font-size:10px;color:#000;-webkit-text-stroke:0.16px #000;transform:scale(0.9376,0.97) skewX(0.05deg);">0.75640</span>
<span class="t" style="left:1169.6px;top:65.68px;font-size:10px;color:#000;-webkit-text-stroke:0.16px #000;transform:scale(0.9575,0.97) skewX(0.05deg);">0.75115</span>
<span class="t" style="left:1169.6px;top:98.68px;font-size:10px;color:#000;-webkit-text-stroke:0.16px #000;transform:scale(0.9376,0.97) skewX(0.05deg);">0.74590</span>
<span class="t" style="left:1169.6px;top:131.68px;font-size:10px;color:#000;-webkit-text-stroke:0.16px #000;transform:scale(0.9376,0.97) skewX(0.05deg);">0.74065</span>
<span class="t" style="left:1169.6px;top:164.68px;font-size:10px;color:#000;-webkit-text-stroke:0.16px #000;transform:scale(0.9376,0.97) skewX(0.05deg);">0.73540</span>
<span class="t" style="left:1169.6px;top:197.68px;font-size:10px;color:#000;-webkit-text-stroke:0.16px #000;transform:scale(0.9376,0.97) skewX(0.05deg);">0.73015</span>
<span class="t" style="left:1169.6px;top:230.68px;font-size:10px;color:#000;-webkit-text-stroke:0.16px #000;transform:scale(0.9376,0.97) skewX(0.05deg);">0.72490</span>
<span class="t" style="left:1169.6px;top:263.68px;font-size:10px;color:#000;-webkit-text-stroke:0.16px #000;transform:scale(0.9376,0.97) skewX(0.05deg);">0.71965</span>
<span class="t" style="left:1169.6px;top:296.68px;font-size:10px;color:#000;-webkit-text-stroke:0.16px #000;transform:scale(0.9376,0.97) skewX(0.05deg);">0.71440</span>
<span class="t" style="left:1169.6px;top:329.68px;font-size:10px;color:#000;-webkit-text-stroke:0.16px #000;transform:scale(0.9376,0.97) skewX(0.05deg);">0.70915</span>
<span class="t" style="left:1169.6px;top:362.68px;font-size:10px;color:#000;-webkit-text-stroke:0.16px #000;transform:scale(0.9376,0.97) skewX(0.05deg);">0.70390</span>
<span class="t" style="left:6.1px;top:409.78px;font-size:10px;color:#000;-webkit-text-stroke:0.16px #000;transform:scale(0.9366,0.97) skewX(0.05deg);">MACD(12,26,9) 0.000404 0.000687</span>
<span class="t" style="left:6.1px;top:480.98px;font-size:10px;color:#000;-webkit-text-stroke:0.16px #000;transform:scale(0.9293,0.97) skewX(0.05deg);">RSI(14) 50.9973</span>
<span class="t" style="left:1167.9px;top:407.78px;font-size:10px;color:#000;-webkit-text-stroke:0.16px #000;transform:scale(0.9013,0.97) skewX(0.05deg);">0.006201</span>
<span class="t" style="left:1167.9px;top:428.78px;font-size:10px;color:#000;-webkit-text-stroke:0.16px #000;transform:scale(0.9400,0.97) skewX(0.05deg);">0.00</span>
<span class="t" style="left:1167.9px;top:463.18px;font-size:10px;color:#000;-webkit-text-stroke:0.16px #000;transform:scale(0.9235,0.97) skewX(0.05deg);">-0.009197</span>
<span class="t" style="left:1167.9px;top:478.68px;font-size:10px;color:#000;-webkit-text-stroke:0.16px #000;transform:scale(0.9228,0.97) skewX(0.05deg);">100</span>
<span class="t" style="left:1167.6px;top:494.18px;font-size:10px;color:#000;-webkit-text-stroke:0.16px #000;transform:scale(0.8449,0.97) skewX(0.05deg);">70</span>
<span class="t" style="left:1167.6px;top:521.78px;font-size:10px;color:#000;-webkit-text-stroke:0.16px #000;transform:scale(0.8449,0.97) skewX(0.05deg);">30</span>
<span class="t" style="left:1168.3px;top:536.98px;font-size:10px;color:#000;-webkit-text-stroke:0.16px #000;transform:scale(0.8809,0.97) skewX(0.05deg);">0</span>
<span class="t" style="left:0.8px;top:552.58px;font-size:10px;color:#000;-webkit-text-stroke:0.16px #000;transform:scale(0.9165,0.97) skewX(0.05deg);">9 Sep 2021</span>
<span class="t" style="left:65.5px;top:552.58px;font-size:10px;color:#000;-webkit-text-stroke:0.16px #000;transform:scale(0.9045,0.97) skewX(0.05deg);">19 Sep 2021</span>
<span class="t" style="left:128.9px;top:552.58px;font-size:10px;color:#000;-webkit-text-stroke:0.16px #000;transform:scale(0.9133,0.97) skewX(0.05deg);">28 Sep 2021</span>
<span class="t" style="left:193.5px;top:552.58px;font-size:10px;color:#000;-webkit-text-stroke:0.16px #000;transform:scale(0.9219,0.97) skewX(0.05deg);">7 Oct 2021</span>
<span class="t" style="left:256.9px;top:552.58px;font-size:10px;color:#000;-webkit-text-stroke:0.16px #000;transform:scale(0.9471,0.97) skewX(0.05deg);">17 Oct 2021</span>
<span class="t" style="left:320.9px;top:552.58px;font-size:10px;color:#000;-webkit-text-stroke:0.16px #000;transform:scale(0.9287,0.97) skewX(0.05deg);">26 Oct 2021</span>
<span class="t" style="left:384.8px;top:552.58px;font-size:10px;color:#000;-webkit-text-stroke:0.16px #000;transform:scale(0.9578,0.97) skewX(0.05deg);">4 Nov 2021</span>
<span class="t" style="left:448.4px;top:552.58px;font-size:10px;color:#000;-webkit-text-stroke:0.16px #000;transform:scale(0.9697,0.97) skewX(0.05deg);">14 Nov 2021</span>
<span class="t" style="left:513.1px;top:552.58px;font-size:10px;color:#000;-webkit-text-stroke:0.16px #000;transform:scale(0.9503,0.97) skewX(0.05deg);">23 Nov 2021</span>
<span class="t" style="left:577.0px;top:552.58px;font-size:10px;color:#000;-webkit-text-stroke:0.16px #000;transform:scale(0.9246,0.97) skewX(0.05deg);">2 Dec 2021</span>
<span class="t" style="left:641.0px;top:552.58px;font-size:10px;color:#000;-webkit-text-stroke:0.16px #000;transform:scale(0.9168,0.97) skewX(0.05deg);">12 Dec 2021</span>
<span class="t" style="left:704.9px;top:552.58px;font-size:10px;color:#000;-webkit-text-stroke:0.16px #000;transform:scale(0.9221,0.97) skewX(0.05deg);">21 Dec 2021</span>
<span class="t" style="left:768.8px;top:552.58px;font-size:10px;color:#000;-webkit-text-stroke:0.16px #000;transform:scale(0.9239,0.97) skewX(0.05deg);">30 Dec 2021</span>
<span class="t" style="left:833.0px;top:552.58px;font-size:10px;color:#000;-webkit-text-stroke:0.16px #000;transform:scale(0.9152,0.97) skewX(0.05deg);">9 Jan 2022</span>
<span class="t" style="left:896.9px;top:552.58px;font-size:10px;color:#000;-webkit-text-stroke:0.16px #000;transform:scale(0.9171,0.97) skewX(0.05deg);">18 Jan 2022</span>
<span class="t" style="left:1169.6px;top:39.78px;font-size:10px;color:#fff;-webkit-text-stroke:0.16px #fff;transform:scale(0.9265,0.97) skewX(0.05deg);z-index:3;">0.75512</span>
<span class="t" style="left:1169.6px;top:134.78px;font-size:10px;color:#fff;-webkit-text-stroke:0.16px #fff;transform:scale(0.9265,0.97) skewX(0.05deg);z-index:3;">0.74002</span>
<span class="t" style="left:1169.6px;top:234.78px;font-size:10px;color:#fff;-webkit-text-stroke:0.16px #fff;transform:scale(0.9265,0.97) skewX(0.05deg);z-index:3;">0.72412</span>
<span class="t" style="left:1169.6px;top:250.78px;font-size:10px;color:#fff;-webkit-text-stroke:0.16px #fff;transform:scale(0.9265,0.97) skewX(0.05deg);z-index:3;">0.72166</span>
<span class="t" style="left:1169.6px;top:322.78px;font-size:10px;color:#fff;-webkit-text-stroke:0.16px #fff;transform:scale(0.9265,0.97) skewX(0.05deg);z-index:3;">0.71013</span>
<span class="t" style="left:1169.6px;top:393.78px;font-size:10px;color:#fff;-webkit-text-stroke:0.16px #fff;transform:scale(0.9265,0.97) skewX(0.05deg);z-index:3;">0.69884</span>
<span class="t" style="left:14.4px;top:575.23px;font-size:13px;color:#6a6a6a;transform:scale(0.9449,1) skewX(0.05deg);z-index:3;">USDX,Weekly</span>
<span class="t" style="left:114.3px;top:575.23px;font-size:13px;color:#6a6a6a;transform:scale(0.9222,1) skewX(0.05deg);z-index:3;">EURUSD-,Daily</span>
<span class="t" style="left:221.2px;top:575.23px;font-size:13px;color:#000;transform:scale(0.9473,1) skewX(0.05deg);z-index:3;">AUDUSD-,Daily</span>
<span class="t" style="left:331.2px;top:575.23px;font-size:13px;color:#6a6a6a;transform:scale(0.9068,1) skewX(0.05deg);z-index:3;">USDCHF-,H4</span>
<span class="t" style="left:426.4px;top:575.23px;font-size:13px;color:#6a6a6a;transform:scale(0.9331,1) skewX(0.05deg);z-index:3;">USDCAD-,Daily</span>
<span class="t" style="left:535.5px;top:575.23px;font-size:13px;color:#6a6a6a;transform:scale(0.9410,1) skewX(0.05deg);z-index:3;">USDCNH-,Daily</span>
<span class="t" style="left:646.0px;top:575.23px;font-size:13px;color:#6a6a6a;transform:scale(0.9308,1) skewX(0.05deg);z-index:3;">XAUUSD-,H1</span>
<span class="t" style="left:742.2px;top:575.23px;font-size:13px;color:#6a6a6a;transform:scale(0.9690,1) skewX(0.05deg);z-index:3;">UKOil-,Daily</span>
<span class="t" style="left:835.0px;top:575.23px;font-size:13px;color:#6a6a6a;transform:scale(0.9526,1) skewX(0.05deg);z-index:3;">DJ30-,Daily</span>
<span class="t" style="left:922.3px;top:575.23px;font-size:13px;color:#6a6a6a;transform:scale(0.9500,1) skewX(0.05deg);z-index:3;">UK100-,H1</span>
<span class="t" style="left:17.2px;top:49.23px;font-size:13px;color:#ececff;transform:scale(0.8236,1) skewX(0.05deg);z-index:3;">SELL</span>
<span class="t" style="left:185.0px;top:49.23px;font-size:13px;color:#ececff;transform:scale(0.8940,1) skewX(0.05deg);z-index:3;">BUY</span>
<span class="t" style="left:121.5px;top:49.02px;font-size:12px;color:#000;transform:scale(0.9846,1) skewX(0.05deg);z-index:3;">3.00</span>
<span class="t" style="left:25.0px;top:85.23px;font-size:13px;color:#fff;font-weight:bold;transform:scale(0.9481,1) skewX(0.05deg);z-index:3;">0.72</span>
<span class="t" style="left:134.7px;top:85.23px;font-size:13px;color:#fff;font-weight:bold;transform:scale(0.9837,1) skewX(0.05deg);z-index:3;">0.72</span>
<span class="t" style="left:51.2px;top:67.47px;font-size:34.3px;color:#fff;transform:scale(0.9907,1) skewX(0.05deg);z-index:3;">16</span>
<span class="t" style="left:162.0px;top:67.47px;font-size:34.3px;color:#fff;transform:scale(0.9854,1) skewX(0.05deg);z-index:3;">18</span>
<span class="t" style="left:92.5px;top:70.70px;font-size:11px;color:#fff;font-weight:bold;transform:scale(1.0286,1) skewX(0.05deg);z-index:3;">6</span>
<span class="t" style="left:203.5px;top:70.70px;font-size:11px;color:#fff;font-weight:bold;transform:scale(1.0612,1) skewX(0.05deg);z-index:3;">8</span>
</body></html>
